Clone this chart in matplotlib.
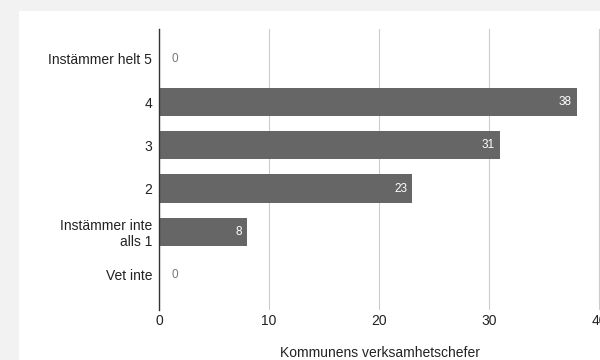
import matplotlib
matplotlib.use('Agg')
import matplotlib.pyplot as plt
from matplotlib.patches import Rectangle

# data
categories = ['Instämmer helt 5', '4', '3', '2', 'Instämmer inte\nalls 1', 'Vet inte']
values = [0, 38, 31, 23, 8, 0]
x_ticks = [0, 10, 20, 30, 40]
x_label = 'Kommunens verksamhetschefer'

plt.rcParams['font.family'] = ['Liberation Sans', 'DejaVu Sans']

fig = plt.figure(figsize=(6, 3.6), dpi=100)
fig.patch.set_facecolor('#f2f2f2')

# white card behind the chart
card = Rectangle((19 / 600, 0), 1.0, (360 - 11) / 360,
                 transform=fig.transFigure, facecolor='white',
                 edgecolor='none', zorder=-5)
fig.add_artist(card)

ax = fig.add_axes([159 / 600, (360 - 310) / 360, 441 / 600, 281 / 360])
ax.set_zorder(2)
ax.set_facecolor('none')

y = list(range(len(categories)))
ax.barh(y, values, height=0.65, color='#666666', zorder=3)

for yi, v in zip(y, values):
    if v > 0:
        ax.text(v - 0.45, yi, str(v), ha='right', va='center', color='white',
                fontsize=8.5, zorder=4)
    else:
        ax.text(1.1, yi, str(v), ha='left', va='center', color='#777777',
                fontsize=8.5, zorder=4)

ax.set_xlim(0, 40.1)
ax.set_ylim(5.81, -0.69)
ax.set_yticks(y)
ax.set_yticklabels(categories, fontsize=10, color='#222222')
for lbl in ax.get_yticklabels():
    lbl.set_multialignment('right')
ax.set_xticks(x_ticks)
ax.set_xticklabels([str(t) for t in x_ticks], fontsize=10, color='#222222')
ax.tick_params(axis='y', length=0, pad=5)
ax.tick_params(axis='x', length=0, pad=3)

ax.grid(axis='x', color='#cccccc', linewidth=0.8, zorder=0)
for s in ['top', 'right', 'bottom']:
    ax.spines[s].set_visible(False)
ax.spines['left'].set_color('#333333')
ax.spines['left'].set_linewidth(1.0)
ax.spines['left'].set_zorder(5)

ax.set_xlabel(x_label, fontsize=10, color='#222222', labelpad=13)

fig.savefig('out.png', dpi=100, facecolor=fig.get_facecolor())
